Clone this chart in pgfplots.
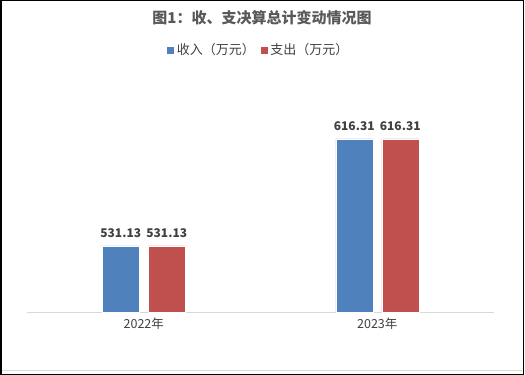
\documentclass[border=0pt]{standalone}
\usepackage{pgfplots}
\pgfplotsset{compat=1.18}
\usepackage{fontspec}
\setmainfont{Noto Sans CJK SC}
\definecolor{cblue}{HTML}{4F81BD}
\definecolor{cred}{HTML}{C0504D}
\definecolor{ctitle}{HTML}{595959}
\definecolor{clabel}{HTML}{404040}
\definecolor{cgrid}{HTML}{D9D9D9}
\begin{document}
\begin{tikzpicture}
\useasboundingbox (0,0) rectangle (525bp,375bp);
\draw[black,line width=1.5bp] (0.75bp,0.75bp) rectangle (523.5bp,374.25bp);
\draw[cgrid,line width=1bp] (1.5bp,4bp) -- (522bp,4bp);
\node[font=\fontsize{15bp}{18bp}\selectfont\bfseries,text=ctitle] at (262bp,357bp) {图1：收、支决算总计变动情况图};
\begin{axis}[
  at={(27bp,63bp)}, anchor=south west,
  scale only axis, width=467bp, height=212bp,
  ymin=478.59, ymax=647.35,
  xmin=-0.5, xmax=1.5,
  xtick={0,1}, xticklabels={2022年,2023年},
  ytick=\empty,
  axis y line=none,
  axis x line=bottom,
  x axis line style={draw=cgrid,line width=1bp,-},
  major tick length=0pt,
  xticklabel style={font=\fontsize{12.5bp}{14bp}\selectfont,text=clabel,yshift=-2bp},
  ybar=9bp, bar width=37bp,
  nodes near coords,
  every node near coord/.append style={font=\fontsize{12bp}{14bp}\selectfont\bfseries,text=clabel,yshift=5bp,
    /pgf/number format/.cd,fixed,fixed zerofill,precision=2,assume math mode=true},
  legend columns=2,
  legend style={at={(0.4957,1.236)},anchor=center,draw=none,fill=none,
    font=\fontsize{13bp}{15bp}\selectfont,text=clabel,
    nodes={inner xsep=2bp},
    /tikz/every even column/.append style={column sep=3bp}},
  legend image code/.code={\fill[#1] (0bp,-4bp) rectangle (8bp,4bp);},
  clip=false,
]
\addplot[fill=cblue,draw=white,line width=0.5bp] coordinates {(0,531.13) (1,616.31)};
\addplot[fill=cred,draw=white,line width=0.5bp] coordinates {(0,531.13) (1,616.31)};
\legend{收入（万元）,支出（万元）}
\end{axis}
\end{tikzpicture}
\end{document}
